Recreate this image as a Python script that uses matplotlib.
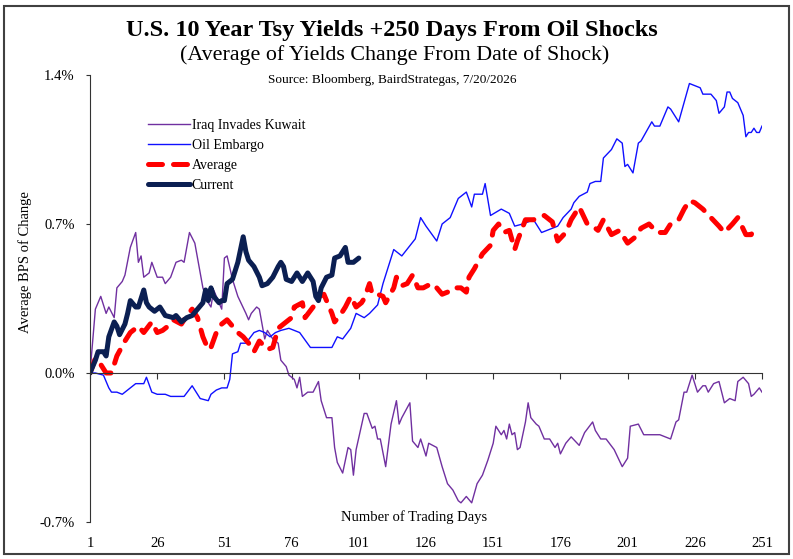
import matplotlib.pyplot as plt
from matplotlib.patches import Rectangle

plt.rcParams['font.family'] = ['Liberation Serif', 'DejaVu Serif']

# Iraq Invades Kuwait
iraq_days = [1, 3, 5, 7, 8, 10, 11, 13, 14, 16, 18, 19, 20, 21, 23, 24, 26, 28, 29, 31,
             33, 35, 36, 38, 40, 42, 43, 45, 46, 47, 49, 50, 51, 52, 54, 56, 59, 60, 61, 63,
             64, 66, 67, 69, 71, 72, 74, 75, 77, 78, 79, 80, 82, 84, 86, 87, 89, 91, 92, 93,
             95, 97, 98, 99, 100, 103, 104, 106, 107, 108, 109, 111, 113, 115, 116, 117, 120, 121, 123, 124,
             126, 127, 130, 132, 134, 136, 138, 139, 141, 143, 145, 147, 149, 151, 152, 154, 155, 156, 157, 158,
             159, 160, 161, 163, 164, 165, 167, 168, 170, 172, 174, 175, 176, 178, 180, 183, 185, 188, 189, 191,
             193, 196, 199, 201, 202, 205, 207, 210, 213, 215, 217, 219, 220, 222, 223, 225, 227, 229, 230, 231,
             233, 235, 237, 239, 241, 242, 244, 246, 247, 248, 250, 251]
iraq_vals = [0, 0.30, 0.36, 0.28, 0.31, 0.26, 0.40, 0.43, 0.46, 0.59, 0.66, 0.52, 0.55, 0.45, 0.47, 0.52, 0.45, 0.45, 0.42, 0.45,
             0.52, 0.53, 0.52, 0.66, 0.61, 0.47, 0.40, 0.33, 0.31, 0.39, 0.33, 0.30, 0.54, 0.55, 0.44, 0.36, 0.28, 0.25, 0.28, 0.31,
             0.30, 0.16, 0.20, 0.16, 0.14, 0.06, 0.03, -0.01, -0.03, -0.07, -0.02, -0.11, -0.09, -0.09, -0.04, -0.13, -0.21, -0.21, -0.35, -0.42,
             -0.47, -0.35, -0.36, -0.48, -0.36, -0.19, -0.19, -0.26, -0.25, -0.31, -0.31, -0.44, -0.24, -0.13, -0.24, -0.21, -0.14, -0.32, -0.35, -0.31,
             -0.39, -0.33, -0.35, -0.44, -0.52, -0.55, -0.60, -0.61, -0.58, -0.61, -0.52, -0.48, -0.41, -0.33, -0.25, -0.29, -0.27, -0.31, -0.24, -0.29,
             -0.28, -0.36, -0.35, -0.23, -0.14, -0.21, -0.24, -0.25, -0.31, -0.31, -0.35, -0.33, -0.38, -0.33, -0.30, -0.34, -0.28, -0.23, -0.27, -0.31,
             -0.31, -0.36, -0.44, -0.40, -0.25, -0.24, -0.29, -0.29, -0.29, -0.30, -0.31, -0.23, -0.22, -0.09, -0.09, -0.01, -0.09, -0.06, -0.06, -0.09,
             -0.05, -0.04, -0.14, -0.12, -0.13, -0.04, -0.02, -0.05, -0.11, -0.10, -0.07, -0.09]

# Oil Embargo
embargo_days = [1, 3, 6, 8, 9, 11, 13, 15, 18, 19, 21, 22, 24, 26, 29, 31, 33, 36, 39, 41,
                42, 45, 46, 48, 50, 52, 53, 54, 56, 57, 59, 62, 64, 66, 68, 70, 72, 75, 79, 83,
                91, 93, 95, 98, 100, 103, 105, 108, 110, 114, 117, 122, 124, 126, 130, 132, 135, 138, 141, 143,
                144, 147, 148, 150, 154, 157, 159, 162, 166, 169, 175, 177, 180, 181, 183, 186, 187, 189, 191, 192,
                195, 197, 199, 200, 201, 203, 205, 206, 210, 211, 213, 216, 217, 220, 222, 224, 226, 228, 229, 232,
                234, 235, 237, 238, 239, 240, 242, 244, 245, 246, 247, 248, 249, 250, 251]
embargo_vals = [0, 0, -0.01, -0.07, -0.09, -0.09, -0.10, -0.08, -0.05, -0.05, -0.05, -0.02, -0.09, -0.10, -0.10, -0.11, -0.11, -0.11, -0.06, -0.10,
                -0.12, -0.13, -0.10, -0.08, -0.07, -0.07, -0.03, 0.09, 0.10, 0.14, 0.14, 0.19, 0.20, 0.19, 0.17, 0.19, 0.20, 0.21, 0.19, 0.12,
                0.12, 0.17, 0.16, 0.21, 0.28, 0.26, 0.28, 0.32, 0.42, 0.58, 0.55, 0.63, 0.73, 0.69, 0.62, 0.70, 0.73, 0.82, 0.85, 0.78,
                0.84, 0.84, 0.89, 0.74, 0.77, 0.75, 0.69, 0.70, 0.72, 0.66, 0.69, 0.73, 0.77, 0.80, 0.83, 0.85, 0.89, 0.90, 0.90, 1.01,
                1.05, 1.10, 1.08, 0.97, 0.98, 0.94, 1.08, 1.09, 1.18, 1.16, 1.16, 1.25, 1.24, 1.18, 1.27, 1.36, 1.35, 1.34, 1.31, 1.31,
                1.28, 1.22, 1.25, 1.32, 1.32, 1.29, 1.27, 1.21, 1.11, 1.13, 1.13, 1.15, 1.13, 1.13, 1.16]

# Average
avg_days = [1, 3, 5, 7, 9, 11, 14, 16, 19, 21, 24, 26, 28, 30, 32, 35, 37, 39, 41, 43,
            45, 46, 48, 50, 52, 54, 56, 58, 60, 62, 64, 67, 69, 71, 73, 76, 77, 80, 81, 84,
            85, 88, 91, 92, 94, 96, 98, 100, 102, 103, 105, 106, 108, 110, 111, 114, 115, 117, 119, 121,
            123, 125, 128, 130, 132, 134, 136, 139, 141, 142, 144, 147, 150, 151, 153, 155, 157, 159, 160, 163,
            166, 168, 170, 173, 175, 178, 180, 183, 186, 188, 190, 192, 195, 198, 201, 204, 206, 209, 212, 215,
            217, 220, 222, 224, 226, 229, 232, 235, 237, 240, 242, 245, 247, 248]
avg_vals = [0, 0.07, 0.04, 0.0, 0.0, 0.08, 0.15, 0.19, 0.22, 0.19, 0.24, 0.19, 0.20, 0.22, 0.25, 0.23, 0.27, 0.30, 0.26, 0.17,
            0.11, 0.12, 0.19, 0.23, 0.25, 0.22, 0.19, 0.17, 0.14, 0.10, 0.15, 0.11, 0.12, 0.21, 0.23, 0.26, 0.31, 0.33, 0.26, 0.31,
            0.35, 0.37, 0.28, 0.24, 0.27, 0.31, 0.36, 0.31, 0.33, 0.35, 0.42, 0.37, 0.37, 0.36, 0.33, 0.40, 0.45, 0.41, 0.42, 0.46,
            0.40, 0.40, 0.42, 0.40, 0.37, 0.38, 0.40, 0.40, 0.38, 0.45, 0.49, 0.56, 0.60, 0.67, 0.70, 0.66, 0.67, 0.58, 0.62, 0.72,
            0.72, 0.73, 0.74, 0.71, 0.62, 0.66, 0.72, 0.78, 0.70, 0.69, 0.67, 0.72, 0.65, 0.67, 0.61, 0.64, 0.68, 0.70, 0.66, 0.66,
            0.70, 0.72, 0.77, 0.81, 0.80, 0.77, 0.73, 0.69, 0.66, 0.70, 0.73, 0.65, 0.65, 0.68]

# Current
cur_days = [1, 3, 4, 6, 7, 8, 10, 11, 12, 14, 15, 16, 18, 19, 21, 22, 23, 25, 27, 29,
            32, 33, 35, 37, 39, 41, 43, 44, 45, 46, 47, 49, 50, 51, 52, 54, 56, 57, 58, 59,
            60, 62, 64, 65, 67, 69, 71, 72, 73, 74, 76, 78, 80, 82, 84, 85, 86, 87, 89, 91,
            92, 94, 96, 97, 99, 101]
cur_vals = [0, 0.06, 0.10, 0.10, 0.08, 0.17, 0.24, 0.22, 0.18, 0.23, 0.28, 0.34, 0.31, 0.31, 0.39, 0.33, 0.31, 0.29, 0.31, 0.27,
            0.26, 0.27, 0.24, 0.26, 0.27, 0.30, 0.33, 0.39, 0.34, 0.40, 0.36, 0.33, 0.34, 0.34, 0.42, 0.44, 0.52, 0.58, 0.64, 0.57,
            0.53, 0.50, 0.45, 0.41, 0.42, 0.45, 0.50, 0.52, 0.50, 0.44, 0.43, 0.47, 0.43, 0.47, 0.43, 0.36, 0.34, 0.40, 0.45, 0.46,
            0.54, 0.55, 0.59, 0.52, 0.52, 0.54]

x_ticks = [1, 26, 51, 76, 101, 126, 151, 176, 201, 226, 251]
y_ticks = [-0.7, 0.0, 0.7, 1.4]

fig = plt.figure(figsize=(7.93, 5.59), dpi=100)
ax = fig.add_axes([90 / 793, 1 - 522 / 559, 672 / 793, 447 / 559])

ax.plot(iraq_days, iraq_vals, color='#7030A0', lw=1.0, label='Iraq Invades Kuwait')
ax.plot(embargo_days, embargo_vals, color='#1010FF', lw=1.0, label='Oil Embargo')
ax.plot(avg_days, avg_vals, color='#FF0000', lw=3.6, dashes=(2.8, 2.2),
        dash_capstyle='round', label='Average')
ax.plot(cur_days, cur_vals, color='#0B1F52', lw=3.6, solid_capstyle='round',
        solid_joinstyle='round', label='Current')

ax.set_xlim(1, 251)
ax.set_ylim(-0.7, 1.4)
ax.set_yticks(y_ticks)
ax.set_yticklabels(['%.1f%%' % v for v in y_ticks])
ax.set_xticks(x_ticks)
ax.tick_params(axis='x', labelbottom=False, direction='out', length=4, color='#333333')
ax.tick_params(axis='y', direction='out', length=3, pad=8, labelsize=10.5, color='#333333')

ax.spines['top'].set_visible(False)
ax.spines['right'].set_visible(False)
ax.spines['bottom'].set_position(('data', 0))
ax.spines['bottom'].set_color('#333333')
ax.spines['left'].set_color('#333333')

for d in x_ticks:
    ax.annotate(str(d), xy=(d, 0), xycoords=('data', 'axes fraction'),
                xytext=(0, -11), textcoords='offset points',
                ha='center', va='top', fontsize=10.5)

fig.text(0.494, 0.946, 'U.S. 10 Year Tsy Yields +250 Days From Oil Shocks',
         ha='center', va='center', fontsize=17.5, fontweight='bold')
fig.text(0.498, 0.902, '(Average of Yields Change From Date of Shock)',
         ha='center', va='center', fontsize=15.8)
fig.text(0.495, 0.857, 'Source: Bloomberg, BairdStrategas, 7/20/2026',
         ha='center', va='center', fontsize=9.5)
fig.text(0.522, 0.075, 'Number of Trading Days', ha='center', va='center', fontsize=10.5)
fig.text(25 / 793, 0.531, 'Average BPS of Change', ha='center', va='center',
         rotation=90, fontsize=10.5)

ax.legend(loc='upper left', bbox_to_anchor=(148 / 793, 1 - 119 / 559),
          bbox_transform=fig.transFigure, frameon=False, fontsize=10,
          handlelength=3.0, handletextpad=0.15, labelspacing=0.5,
          borderpad=0, borderaxespad=0)

fig.patches.append(Rectangle((4 / 793, 5 / 559), 785 / 793, 548 / 559,
                             transform=fig.transFigure, fill=False,
                             edgecolor='#404040', lw=1.5))

fig.savefig('out.png', dpi=100)
